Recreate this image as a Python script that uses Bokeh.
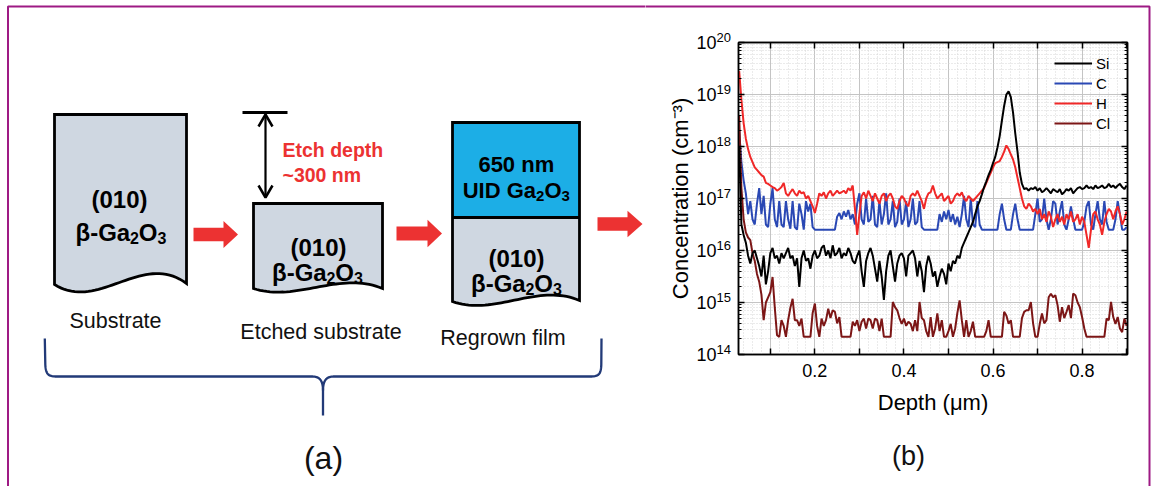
import numpy as np
from bokeh.plotting import figure
from bokeh.layouts import row
from bokeh.models import (Range1d, LinearAxis, LogAxis, FixedTicker, CustomJSTickFormatter,
                          Legend, LegendItem, LinearScale)
from bokeh.core.properties import value
from bokeh.embed import file_html
from bokeh.resources import INLINE

FONT = "Liberation Sans"

# ---------------- data (SIMS depth profile, log10 of concentration in cm^-3) ----------------
depth = [
    0.030, 0.035, 0.040, 0.045, 0.050, 0.055, 0.060, 0.065, 0.070, 0.075,
    0.080, 0.085, 0.090, 0.095, 0.100, 0.105, 0.110, 0.115, 0.120, 0.125,
    0.130, 0.135, 0.140, 0.145, 0.150, 0.155, 0.160, 0.165, 0.170, 0.175,
    0.180, 0.185, 0.190, 0.195, 0.200, 0.205, 0.210, 0.215, 0.220, 0.225,
    0.230, 0.235, 0.240, 0.245, 0.250, 0.255, 0.260, 0.265, 0.270, 0.275,
    0.280, 0.285, 0.290, 0.295, 0.300, 0.305, 0.310, 0.315, 0.320, 0.325,
    0.330, 0.335, 0.340, 0.345, 0.350, 0.355, 0.360, 0.365, 0.370, 0.375,
    0.380, 0.385, 0.390, 0.395, 0.400, 0.405, 0.410, 0.415, 0.420, 0.425,
    0.430, 0.435, 0.440, 0.445, 0.450, 0.455, 0.460, 0.465, 0.470, 0.475,
    0.480, 0.485, 0.490, 0.495, 0.500, 0.505, 0.510, 0.515, 0.520, 0.525,
    0.530, 0.535, 0.540, 0.545, 0.550, 0.555, 0.560, 0.565, 0.570, 0.575,
    0.580, 0.585, 0.590, 0.595, 0.600, 0.605, 0.610, 0.615, 0.620, 0.625,
    0.630, 0.635, 0.640, 0.645, 0.650, 0.655, 0.660, 0.665, 0.670, 0.675,
    0.680, 0.685, 0.690, 0.695, 0.700, 0.705, 0.710, 0.715, 0.720, 0.725,
    0.730, 0.735, 0.740, 0.745, 0.750, 0.755, 0.760, 0.765, 0.770, 0.775,
    0.780, 0.785, 0.790, 0.795, 0.800, 0.805, 0.810, 0.815, 0.820, 0.825,
    0.830, 0.835, 0.840, 0.845, 0.850, 0.855, 0.860, 0.865, 0.870, 0.875,
    0.880, 0.885, 0.890, 0.895, 0.900,
]

si_log10 = [
    18.0, 16.5, 16.3, 16.15, 15.9, 15.75, 15.95, 16.0, 15.85, 15.7,
    15.5, 15.9, 15.35, 15.6, 15.95, 16.05, 15.85, 15.9, 15.75, 15.95,
    15.85, 15.95, 16.05, 15.85, 15.9, 15.7, 15.85, 15.3, 15.85, 16.0,
    15.8, 15.85, 15.65, 15.9, 16.0, 15.85, 15.9, 16.05, 16.1, 15.9,
    16.0, 15.85, 16.1, 15.9, 15.95, 16.05, 15.85, 15.95, 15.9, 16.05,
    15.95, 15.8, 15.75, 15.9, 16.0, 15.6, 15.3, 15.8, 15.95, 16.05,
    15.9, 15.65, 15.4, 15.8, 15.5, 15.05, 15.6, 15.9, 16.0, 15.7,
    15.4, 15.75, 15.9, 15.95, 15.85, 15.5, 15.9, 15.95, 16.0, 15.85,
    15.5, 15.8, 15.6, 15.2, 15.7, 15.9, 15.75, 15.5, 15.6, 15.3,
    15.5, 15.65, 15.55, 15.35, 15.75, 15.6, 15.8, 15.75, 15.9, 15.85,
    16.05, 16.15, 16.25, 16.35, 16.45, 16.55, 16.7, 16.85, 16.95, 17.08,
    17.22, 17.33, 17.45, 17.55, 17.68, 17.8, 17.98, 18.2, 18.5, 18.78,
    19.0, 19.06, 18.95, 18.65, 18.25, 17.9, 17.5, 17.28, 17.18, 17.2,
    17.15, 17.2, 17.18, 17.22, 17.15, 17.2, 17.12, 17.15, 17.2, 17.15,
    17.1, 17.18, 17.15, 17.12, 17.18, 17.08, 17.12, 17.18, 17.15, 17.2,
    17.1, 17.15, 17.2, 17.22, 17.18, 17.2, 17.25, 17.2, 17.22, 17.18,
    17.25, 17.2, 17.22, 17.25, 17.2, 17.22, 17.28, 17.22, 17.25, 17.2,
    17.25, 17.28, 17.22, 17.18, 17.25,
]

c_log10 = [
    18.3, 17.7, 17.35, 17.1, 16.7, 16.95, 16.6, 16.5, 16.9, 17.2,
    16.7, 17.05, 16.5, 16.45, 16.9, 17.2, 16.6, 16.45, 16.95, 16.5,
    16.45, 16.95, 16.6, 16.42, 16.95, 16.45, 16.4, 16.9, 16.7, 16.4,
    16.95, 16.75, 16.9, 16.45, 16.4, 16.4, 16.4, 16.4, 16.4, 16.4,
    16.4, 16.4, 16.4, 16.4, 16.65, 16.72, 16.6, 16.75, 16.65, 16.78,
    16.6, 16.7, 16.5, 16.9, 17.1, 16.6, 16.5, 17.0, 16.55, 16.6,
    17.05, 16.5, 16.45, 16.95, 16.5, 16.7, 17.1, 16.5, 16.6, 16.95,
    16.45, 16.55, 17.0, 16.5, 16.6, 16.95, 16.45, 16.6, 17.0, 16.5,
    16.55, 16.95, 16.45, 16.4, 16.4, 16.4, 16.4, 16.4, 16.4, 16.4,
    16.7, 16.55, 16.75, 16.6, 16.78, 16.55, 16.7, 16.5, 16.65, 16.45,
    16.7, 17.05, 16.6, 16.45, 17.0, 16.5, 16.45, 16.95, 16.5, 16.4,
    16.4, 16.4, 16.4, 16.4, 16.4, 16.4, 16.4, 16.7, 16.9, 16.6,
    16.4, 16.4, 16.4, 16.7, 16.9, 16.6, 16.4, 16.4, 16.4, 16.4,
    16.4, 16.4, 16.4, 16.7, 17.0, 16.55, 16.6, 17.0, 16.6, 16.4,
    16.6, 16.95, 16.9, 16.5, 16.75, 16.95, 16.5, 16.4, 16.6, 16.85,
    16.6, 16.4, 16.4, 16.4, 16.4, 16.55, 16.85, 16.95, 16.5, 16.4,
    16.7, 16.95, 16.6, 16.5, 16.95, 16.55, 16.4, 16.4, 16.4, 16.6,
    16.95, 16.7, 16.4, 16.4, 16.45,
]

h_log10 = [
    19.45, 18.9, 18.45, 18.15, 17.95, 17.8, 17.7, 17.6, 17.55, 17.5,
    17.45, 17.42, 17.3, 17.28, 17.25, 17.22, 17.2, 17.15, 17.18, 17.22,
    17.3, 17.1, 17.05, 17.12, 17.18, 17.1, 17.05, 17.15, 17.1, 17.12,
    17.0, 17.05, 16.95, 16.85, 16.72, 16.9, 17.1, 17.05, 17.12, 17.0,
    17.1, 17.15, 17.05, 17.1, 17.15, 17.1, 17.12, 17.15, 17.1, 17.2,
    17.15, 17.25, 16.8, 16.3, 16.7, 17.05, 17.12, 17.0, 17.15, 17.05,
    16.95, 17.1, 17.0, 16.9, 17.05, 17.1, 16.95, 17.05, 17.1, 17.0,
    16.85, 16.8, 16.95, 17.05, 17.0, 16.9, 16.85, 17.05, 17.1, 17.05,
    17.15, 17.05, 16.95, 16.8, 17.0, 17.1, 17.12, 17.25, 17.1, 17.0,
    17.05, 17.1, 16.95, 17.0, 17.05, 16.9, 16.95, 17.05, 17.1, 17.05,
    17.12, 17.0, 16.95, 17.05, 17.0, 16.95, 17.0, 17.05, 17.1, 17.15,
    17.2, 17.3, 17.4, 17.5, 17.6, 17.68, 17.7, 17.72, 17.8, 17.9,
    18.02, 17.95, 17.85, 17.75, 17.6, 17.4, 17.2, 17.0, 16.85, 16.8,
    16.9, 16.85, 16.75, 16.8, 16.7, 16.8, 16.6, 16.7, 16.55, 16.75,
    16.65, 16.45, 16.6, 16.7, 16.55, 16.65, 16.5, 16.7, 16.6, 16.75,
    16.55, 16.6, 16.7, 16.5, 16.65, 16.55, 16.3, 16.05, 16.4, 16.7,
    16.75, 16.6, 16.5, 16.3, 16.55, 16.7, 16.8, 16.75, 16.6, 16.75,
    16.85, 16.7, 16.5, 16.6, 16.75,
]

cl_log10 = [
    18.6, 17.2, 16.6, 16.35, 16.25, 16.2, 15.95, 15.8, 15.55, 15.4,
    15.15, 14.66, 15.0, 15.1, 15.2, 15.49, 14.9, 14.37, 14.34, 14.66,
    14.55, 14.34, 14.66, 14.9, 15.07, 14.66, 14.66, 14.55, 14.69, 14.34,
    14.34, 14.34, 14.34, 14.8, 14.98, 14.55, 14.34, 14.69, 14.55, 14.66,
    14.88, 14.7, 14.85, 14.82, 14.6, 14.72, 14.34, 14.34, 14.34, 14.34,
    14.34, 14.63, 14.55, 14.66, 14.45, 14.63, 14.69, 14.5, 14.69, 14.66,
    14.5, 14.69, 14.66, 14.45, 14.69, 14.34, 14.34, 14.34, 14.34, 15.01,
    14.91, 14.85, 14.7, 14.59, 14.69, 14.55, 14.63, 14.59, 14.45, 14.66,
    14.45, 15.01, 14.7, 14.66, 14.45, 14.34, 14.72, 14.34, 14.5, 14.79,
    14.45, 14.66, 14.34, 14.34, 14.45, 14.59, 14.34, 14.5, 14.8, 15.04,
    14.66, 14.34, 14.66, 14.34, 14.45, 14.63, 14.34, 14.34, 14.34, 14.34,
    14.34, 14.45, 14.66, 14.34, 14.34, 14.34, 14.34, 14.34, 14.34, 14.82,
    14.75, 14.59, 14.66, 14.34, 14.34, 14.34, 14.34, 14.7, 14.82, 14.85,
    14.85, 15.01, 14.6, 14.34, 14.34, 14.59, 14.79, 14.6, 14.66, 15.1,
    15.17, 15.1, 15.14, 14.95, 14.63, 14.91, 14.7, 14.82, 14.95, 14.7,
    15.17, 15.14, 15.0, 14.91, 14.72, 14.5, 14.34, 14.34, 14.34, 14.34,
    14.34, 14.34, 14.34, 14.34, 14.34, 14.69, 14.66, 15.01, 14.72, 14.59,
    14.72, 14.5, 14.43, 14.69, 14.55,
]

series_names = ["Si", "C", "H", "Cl"]
series_colors = ["#000000", "#2a48b4", "#f02828", "#7c1616"]

x_ticks = [0.1, 0.2, 0.3, 0.4, 0.5, 0.6, 0.7, 0.8, 0.9]
y_ticks = [1e14, 1e15, 1e16, 1e17, 1e18, 1e19, 1e20]
y_tick_exponents = ["14", "15", "16", "17", "18", "19", "20"]

# ---------------- right panel: chart ----------------
X0, X1 = 0.0285, 0.902
p = figure(width=510, height=486, y_axis_type="log",
           x_range=Range1d(X0, X1), y_range=Range1d(1e14, 1e20),
           min_border_left=93, min_border_right=28, min_border_top=42, min_border_bottom=132,
           toolbar_location=None, output_backend="svg")
p.outline_line_color = "black"
p.outline_line_width = 1.5
p.extra_x_ranges = {"px": Range1d(738, 1127)}
p.extra_y_ranges = {"px": Range1d(354, 42)}
p.extra_y_scales = {"px": LinearScale()}

x_minor = [round(0.02 * k, 2) for k in range(1, 46)]
y_minor = [m * 10.0 ** e for e in range(14, 20) for m in range(2, 10)]
xt = FixedTicker(ticks=x_ticks, minor_ticks=x_minor)
yt = FixedTicker(ticks=y_ticks, minor_ticks=y_minor)

xfmt = CustomJSTickFormatter(code="const k = Math.round(tick*10); return (k % 2 === 0) ? tick.toFixed(1) : '';")
blank = CustomJSTickFormatter(code="return '';")

for ax in p.xaxis:
    ax.ticker = xt
    ax.formatter = xfmt
    ax.axis_label = "Depth (\u03bcm)"
    ax.major_label_text_font_size = "18px"
    ax.major_label_standoff = 9
    ax.axis_label_standoff = 10
for ax in p.yaxis:
    ax.ticker = yt
    ax.formatter = blank
    ax.axis_label = "Concentration (cm\u207b\u00b3)"
    ax.major_label_standoff = 0
    ax.axis_label_standoff = 46

top = LinearAxis(ticker=xt, formatter=blank)
right = LogAxis(ticker=yt, formatter=blank)
p.add_layout(top, "above")
p.add_layout(right, "right")

for ax in p.axis:
    ax.major_tick_in = 6
    ax.major_tick_out = 0
    ax.minor_tick_out = 0
    ax.axis_line_width = 1.5
    ax.major_tick_line_width = 1.5
    ax.major_label_text_font = FONT
    ax.axis_label_text_font = FONT
    ax.axis_label_text_font_size = "22px"
    ax.axis_label_text_font_style = "normal"
    ax.axis_label_text_color = "black"
    ax.major_label_text_color = "black"
for ax in [p.xaxis[0], top]:
    ax.minor_tick_in = 0
for ax in [p.yaxis[0], right]:
    ax.minor_tick_in = 3

p.xgrid.ticker = xt
p.ygrid.ticker = yt
for g in p.grid:
    g.grid_line_color = "#c4c4c4"
    g.grid_line_width = 1
    g.minor_grid_line_color = "#d6d6d6"
    g.minor_grid_line_dash = "1 2"
    g.minor_grid_line_width = 1

logs = {"Si": si_log10, "C": c_log10, "H": h_log10, "Cl": cl_log10}
rend = {}
for name in ["C", "H", "Cl", "Si"]:
    conc = [10.0 ** v for v in logs[name]]
    rend[name] = p.line(depth, conc, line_color=series_colors[series_names.index(name)],
                        line_width=2)

legend = Legend(items=[LegendItem(label=n, renderers=[rend[n]]) for n in series_names],
                location="top_right", background_fill_alpha=0, border_line_alpha=0,
                label_text_font=FONT, label_text_font_size="15px", label_text_color="black",
                glyph_width=38, glyph_height=20, label_height=20, spacing=0, padding=0,
                margin=11, label_standoff=4)
p.add_layout(legend)

# y tick labels as 10 + superscript exponent
p.text(x=[X0] * len(y_ticks), y=y_ticks, text=["10"] * len(y_ticks), x_offset=-22, y_offset=0,
       text_align="right", text_baseline="middle", text_font=value(FONT),
       text_font_size="18px", text_color="black", level="overlay")
p.text(x=[X0] * len(y_ticks), y=y_ticks, text=y_tick_exponents, x_offset=-22, y_offset=-5,
       text_align="left", text_baseline="middle", text_font=value(FONT),
       text_font_size="13px", text_color="black", level="overlay")

p.text(x=[908], y=[455], x_range_name="px", y_range_name="px", text=["(b)"],
       text_align="center", text_baseline="alphabetic", text_font=value(FONT),
       text_font_size="27px", text_color="#111111", level="overlay")

MAG = "#9e1a84"
p.line([645, 1149, 1149], [6, 6, 490], x_range_name="px", y_range_name="px",
       line_color=MAG, line_width=2, level="overlay")

# ---------------- left panel: process diagram (page-pixel coordinates) ----------------
L = figure(width=645, height=486, x_range=Range1d(0, 645), y_range=Range1d(354, 42),
           min_border_left=0, min_border_right=0, min_border_top=42, min_border_bottom=132,
           toolbar_location=None, output_backend="svg",
           x_axis_location=None, y_axis_location=None)
L.outline_line_color = None
L.grid.grid_line_color = None
OV = dict(level="overlay")

L.line([7.5, 7.5, 645], [490, 6, 6], line_color=MAG, line_width=2, **OV)


def bezier(p0, p1, p2, p3, n=40):
    t = np.linspace(0, 1, n)
    x = (1 - t) ** 3 * p0[0] + 3 * (1 - t) ** 2 * t * p1[0] + 3 * (1 - t) * t ** 2 * p2[0] + t ** 3 * p3[0]
    y = (1 - t) ** 3 * p0[1] + 3 * (1 - t) ** 2 * t * p1[1] + 3 * (1 - t) * t ** 2 * p2[1] + t ** 3 * p3[1]
    return list(x), list(y)


GRAY = "#cfd7e1"
BLUE = "#1caee6"
RED = "#ec3232"
NAVY = "#223a78"


def wavy_box(left, right, top, wave):
    bx, by = bezier(*wave)
    xs = [left, right, right] + bx[::-1][1:]
    ys = [top, top, wave[3][1]] + by[::-1][1:]
    return xs, ys


WAVE_S = [(54, 284), (98, 312), (142, 250), (186, 283)]
WAVE_E = [(253, 288), (296, 302), (339, 270), (382, 288)]
WAVE_R = [(452, 301), (494, 316), (537, 282), (579, 300)]

sx, sy = wavy_box(54, 186, 114, WAVE_S)
L.patch(sx, sy, fill_color=GRAY, line_color="black", line_width=2.8, line_join="miter", **OV)
ex_, ey_ = wavy_box(253, 382, 203, WAVE_E)
L.patch(ex_, ey_, fill_color=GRAY, line_color="black", line_width=2.8, line_join="miter", **OV)
rx, ry = wavy_box(452, 579, 217, WAVE_R)
L.patch(rx, ry, fill_color=GRAY, line_color=None, **OV)
L.patch([452, 579, 579, 452], [122, 122, 217, 217], fill_color=BLUE, line_color=None, **OV)
ox, oy = wavy_box(452, 579, 122, WAVE_R)
L.patch(ox, oy, fill_color=None, line_color="black", line_width=2.8, line_join="miter", **OV)
L.line([452, 579], [217, 217], line_color="black", line_width=2.8, **OV)


def arrow(x0, xh, xt_, yc, hs, hh):
    return ([x0, xh, xh, xt_, xh, xh, x0], [yc - hs, yc - hs, yc - hh, yc, yc + hh, yc + hs, yc + hs])


for a in [(193, 223, 237.5, 234, 6.8, 13.5), (396, 427, 441.5, 233, 7, 13.7),
          (597, 627, 642, 223.5, 6.7, 13.3)]:
    axs, ays = arrow(*a)
    L.patch(axs, ays, fill_color=RED, line_color=None, **OV)

# etch depth marker
L.line([242, 287], [112, 112], line_color="black", line_width=2.8, **OV)
L.line([265, 265], [114, 197], line_color="black", line_width=2.2, **OV)
L.line([258, 265, 272], [126, 114, 126], line_color="black", line_width=2.5, **OV)
L.line([258, 265, 272], [185, 197, 185], line_color="black", line_width=2.5, **OV)

# brace
b1x, b1y = bezier((44.8, 364), (45.3, 374), (48, 376), (56, 376), 20)
b2x, b2y = bezier((312, 376), (319, 376), (322.5, 380), (322.5, 390), 20)
L.line([44.3] + b1x + b2x + [322.5], [338] + b1y + b2y + [415], line_color=NAVY,
       line_width=2.3, **OV)
b3x, b3y = bezier((333, 376), (326, 376), (322.5, 380), (322.5, 390), 20)
b4x, b4y = bezier((590, 376), (598, 376), (600.5, 374), (600.8, 364), 20)
L.line(b3x[::-1] + b4x + [601], b3y[::-1] + b4y + [338], line_color=NAVY, line_width=2.3, **OV)

BOLD_W = {"(": .333, ")": .333, "0": .556, "1": .556, "2": .556, "3": .556, "5": .556,
          "6": .556, "\u03b2": .6, "-": .333, "G": .778, "a": .556, "O": .778, "U": .722,
          "I": .278, "D": .722, " ": .278, "n": .611, "m": .889}


def runs(fig, parts, cx, y, color="black"):
    widths = [sum(BOLD_W.get(ch, .6) for ch in s) * size for s, size, dy in parts]
    x = cx - sum(widths) / 2
    for (s, size, dy), w in zip(parts, widths):
        fig.text(x=[x], y=[y + dy], text=[s], text_font=value(FONT), text_font_size=f"{size}px",
                 text_font_style="bold", text_align="left", text_baseline="alphabetic",
                 text_color=color, **OV)
        x += w


def ga2o3(big=24, small=16, prefix="\u03b2-Ga"):
    return [(prefix, big, 0), ("2", small, 5.5), ("O", big, 0), ("3", small, 5.5)]


runs(L, [("(010)", 24, 0)], 119, 199)
runs(L, ga2o3(), 120.5, 232)
runs(L, [("(010)", 24, 0)], 318, 246.5)
runs(L, ga2o3(), 317, 271.5)
runs(L, [("650 nm", 22, 0)], 515.8, 164)
runs(L, ga2o3(22, 15, "UID Ga"), 515.8, 190)
runs(L, [("(010)", 24, 0)], 516, 258)
runs(L, ga2o3(), 516, 283)

captions = ["Substrate", "Etched substrate", "Regrown film"]
cap_pos = [(115, 320), (320.5, 331), (502.5, 337)]
for t, (cx, cy) in zip(captions, cap_pos):
    L.text(x=[cx], y=[cy], text=[t], text_font=value(FONT), text_font_size="21.5px",
           text_align="center", text_baseline="alphabetic", text_color="#111111", **OV)

L.text(x=[282, 282], y=[149, 174], text=["Etch depth", "~300 nm"], text_font=value(FONT),
       text_font_size="19.5px", text_font_style="bold", text_align="left",
       text_baseline="alphabetic", text_color=RED, **OV)
L.text(x=[323], y=[457], text=["(a)"], text_font=value(FONT), text_font_size="32px",
       text_align="center", text_baseline="alphabetic", text_color="#111111", **OV)

layout = row(L, p)
open("out.html", "w").write(file_html(layout, INLINE))
